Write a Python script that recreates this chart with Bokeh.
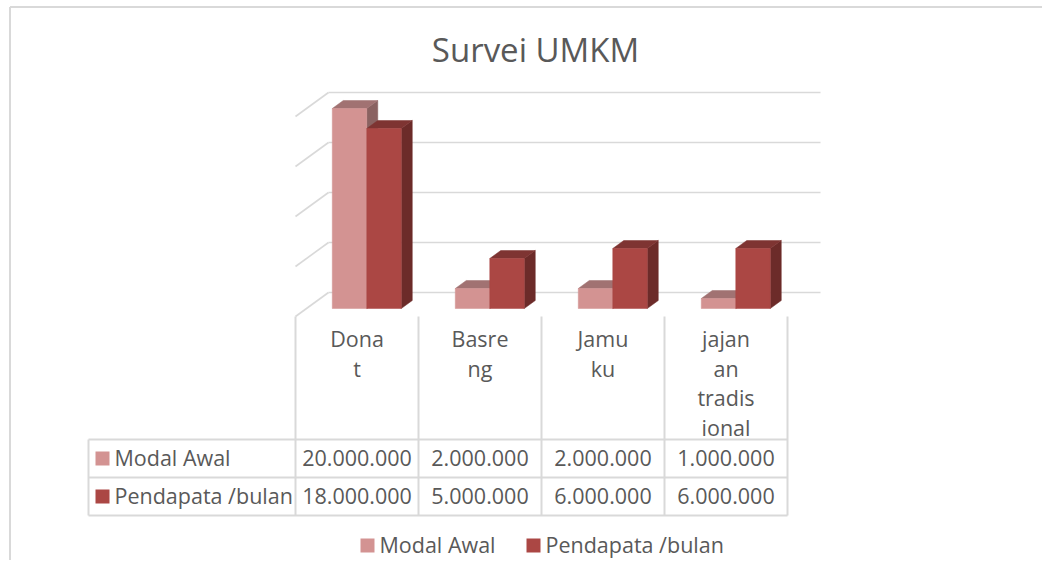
from bokeh.plotting import figure
from bokeh.models import Range1d
from bokeh.core.properties import value
from bokeh.embed import file_html
from bokeh.resources import INLINE

# ---------------- data ----------------
title_text = "Survei UMKM"
categories = ["Donat", "Basreng", "Jamuku", "jajanan tradisional"]
category_lines = [["Dona", "t"], ["Basre", "ng"], ["Jamu", "ku"], ["jajan", "an", "tradis", "ional"]]
series_names = ["Modal Awal", "Pendapata /bulan"]
modal_awal = [20000000, 2000000, 2000000, 1000000]
pendapatan = [18000000, 5000000, 6000000, 6000000]
gridline_values = [0, 5000000, 10000000, 15000000, 20000000]

# ---------------- styling ----------------
front_colors = ["#D39392", "#AB4744"]
top_colors = ["#A17272", "#7E3432"]
side_colors = ["#8A6261", "#6C2B29"]
grid_color = "#D9D9D9"
text_color = "#595959"
FONT = value("Open Sans")
FS = "21.5px"
TEXT_DY = 8.0   # baseline correction for text placement (px)

# pixel helpers (layout only): 123 px per category, 10 px per 1.000.000
X0_PX, Y0_PX = 295.0, 316.0
CAT_PX, UNIT_PX = 123.0, 1e-5


def to_x(px):
    return (px - X0_PX) / CAT_PX


def to_y(py):
    return (Y0_PX - py) / UNIT_PX


def to_ty(py):
    return to_y(py - TEXT_DY)


DEPTH_DX = 33.0 / CAT_PX          # floor depth in x units
DEPTH_DY = 24.0 / UNIT_PX         # floor depth in y units
BAR_W = 34.5 / CAT_PX

W, H = 1042, 560
p = figure(width=W, height=H,
           x_range=Range1d(to_x(0), to_x(W)),
           y_range=Range1d(to_y(H), to_y(0)),
           output_backend="svg", toolbar_location=None,
           x_axis_type=None, y_axis_type=None, min_border=0)
p.grid.visible = False
p.outline_line_color = None
p.background_fill_color = "white"
p.border_fill_color = "white"

# outer chart border (top and left visible)
p.line([to_x(9.5), to_x(W)], [to_y(6.5), to_y(6.5)], line_color=grid_color, line_width=2)
p.line([to_x(9.5), to_x(9.5)], [to_y(6.5), to_y(H)], line_color=grid_color, line_width=2)

# back wall gridlines and left wall diagonals
n = len(categories)
for g in gridline_values:
    p.line([DEPTH_DX, n + DEPTH_DX], [g + DEPTH_DY, g + DEPTH_DY], line_color=grid_color, line_width=1.6)
    p.line([0, DEPTH_DX], [g, g + DEPTH_DY], line_color=grid_color, line_width=1.6)

# 3D bars
xs, ys, cols = [], [], []
ddx, ddy = DEPTH_DX / 3.0, DEPTH_DY / 3.0
for i in range(n):
    for s, vals in enumerate([modal_awal, pendapatan]):
        x0 = i + 0.49 - BAR_W + s * BAR_W + ddx
        x1 = x0 + BAR_W
        yb = ddy
        yt = vals[i] + ddy
        # side
        xs.append([x1, x1 + ddx, x1 + ddx, x1]); ys.append([yb, yb + ddy, yt + ddy, yt]); cols.append(side_colors[s])
        # top
        xs.append([x0, x1, x1 + ddx, x0 + ddx]); ys.append([yt, yt, yt + ddy, yt + ddy]); cols.append(top_colors[s])
        # front
        xs.append([x0, x1, x1, x0]); ys.append([yb, yb, yt, yt]); cols.append(front_colors[s])
p.patches(xs, ys, fill_color=cols, line_color=cols, line_width=0.5)

# ---------------- data table ----------------
row_top, row_mid, row_bot = to_y(439), to_y(477), to_y(515)
left_edge = to_x(88)
for yy in [row_top, row_mid, row_bot]:
    p.line([left_edge, n], [yy, yy], line_color=grid_color, line_width=2)
for i in range(n + 1):
    p.line([i, i], [0, row_bot], line_color=grid_color, line_width=2)
p.line([left_edge, left_edge], [row_top, row_bot], line_color=grid_color, line_width=2)

# category labels (wrapped)
lx, ly, lt = [], [], []
for i, lines in enumerate(category_lines):
    for k, t in enumerate(lines):
        lx.append(i + 0.5); ly.append(to_ty(346 + 29.5 * k)); lt.append(t)
p.text(lx, ly, text=lt, text_font=FONT, text_font_size=FS, text_color=text_color,
       text_align="center", text_baseline="alphabetic")


def fmt(v):
    return f"{v:,}".replace(",", ".")


baselines = [465, 503]
for s, vals in enumerate([modal_awal, pendapatan]):
    p.text([i + 0.5 for i in range(n)], [to_ty(baselines[s])] * n, text=[fmt(v) for v in vals],
           text_font=FONT, text_font_size=FS, text_color=text_color,
           text_align="center", text_baseline="alphabetic")
    # series key in table
    p.quad(left=[to_x(95)], right=[to_x(109)], top=[to_y(451 + 38 * s)], bottom=[to_y(465 + 38 * s)],
           fill_color=front_colors[s], line_color=None)
    p.text([to_x(114)], [to_ty(baselines[s])], text=[series_names[s]], text_font=FONT, text_font_size=FS,
           text_color=text_color, text_align="left", text_baseline="alphabetic")

# ---------------- legend ----------------
leg_sq = [360, 526]
leg_tx = [379, 545]
for s in range(2):
    p.quad(left=[to_x(leg_sq[s])], right=[to_x(leg_sq[s] + 14)], top=[to_y(538)], bottom=[to_y(552)],
           fill_color=front_colors[s], line_color=None)
    p.text([to_x(leg_tx[s])], [to_ty(552)], text=[series_names[s]], text_font=FONT, text_font_size=FS,
           text_color=text_color, text_align="left", text_baseline="alphabetic")

# ---------------- title ----------------
p.text([to_x(535)], [to_ty(57)], text=[title_text], text_font=FONT, text_font_size="33px",
       text_color=text_color, text_align="center", text_baseline="alphabetic")

open("out.html", "w").write(file_html(p, INLINE))
